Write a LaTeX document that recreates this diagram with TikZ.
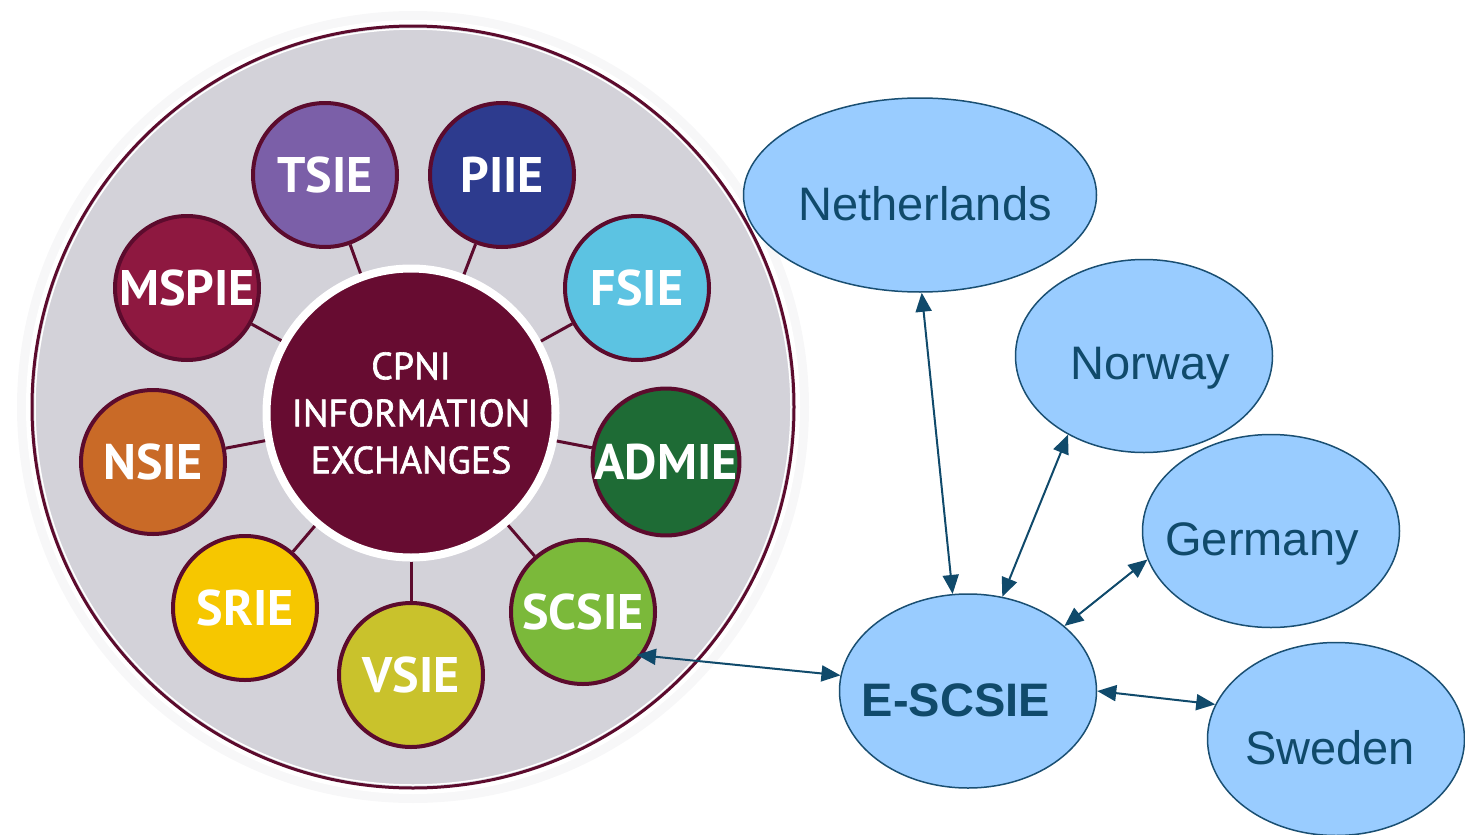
\documentclass[tikz,border=0pt]{standalone}
\usepackage{fontspec}
\setmainfont{Liberation Sans}
\newfontfamily\ptsans{PT Sans}
\newfontfamily\ptsansmed{PT Sans}[FakeBold=1.6]
\usetikzlibrary{shapes.geometric,arrows.meta}
\definecolor{halo}{HTML}{F7F7F8}
\definecolor{ringgray}{HTML}{D3D2D9}
\definecolor{cborder}{HTML}{5C0B2D}
\definecolor{cmaroon}{HTML}{670C31}
\definecolor{ctsie}{HTML}{7B5FA8}
\definecolor{cpiie}{HTML}{2D3B8E}
\definecolor{cfsie}{HTML}{5CC3E2}
\definecolor{cmspie}{HTML}{8E1840}
\definecolor{cnsie}{HTML}{C96A27}
\definecolor{cadmie}{HTML}{1E6B35}
\definecolor{csrie}{HTML}{F6C700}
\definecolor{cscsie}{HTML}{7BB93A}
\definecolor{cvsie}{HTML}{C9C22C}
\definecolor{fillblue}{HTML}{99CCFF}
\definecolor{edgeblue}{HTML}{1A4F72}
\definecolor{textblue}{HTML}{104A6B}
\tikzset{
  smallc/.style={circle, draw=cborder, line width=4pt, minimum size=144pt, inner sep=0pt,
    text=white, font=\ptsans\bfseries\fontsize{50}{60}\selectfont},
  centrec/.style={circle, draw=white, fill=cmaroon, line width=8pt, minimum size=289pt,
    inner sep=0pt, text=white, align=center, font=\ptsansmed\fontsize{38}{47}\selectfont},
  link/.style={draw=cborder, line width=3pt},
  country/.style={ellipse, draw=edgeblue, fill=fillblue, line width=1.5pt, inner sep=0pt,
    minimum width=257pt, minimum height=193pt},
  ctext/.style={text=textblue, font=\fontsize{47}{56}\selectfont, inner sep=0pt},
  biarrow/.style={draw=textblue, line width=2pt,
    {Triangle[length=19pt,width=16pt]}-{Triangle[length=19pt,width=16pt]}}
}
\begin{document}
\begin{tikzpicture}[x=1pt,y=-1pt]
\useasboundingbox (0,0) rectangle (1465,835);
% outer disc
\fill[halo] (413,407) circle[radius=396];
\fill[white] (413,407) circle[radius=387];
\draw[cborder, line width=3pt, fill=ringgray] (413,407) circle[radius=381];
\draw[white, line width=1.5pt] (413,407) circle[radius=378];
% centre
\node[centrec] (ctr) at (411,413) {CPNI\\INFORMATION\\EXCHANGES};
% satellites
\node[smallc, fill=ctsie]   (tsie)  at (325,175) {TSIE};
\node[smallc, fill=cpiie]   (piie)  at (502,175) {PIIE};
\node[smallc, fill=cfsie]   (fsie)  at (637,288) {FSIE};
\node[smallc, fill=cmspie]  (mspie) at (187,288) {MSPIE};
\node[smallc, fill=cnsie]   (nsie)  at (153,462) {NSIE};
\node[smallc, fill=cadmie]  (admie) at (666,462) {ADMIE};
\node[smallc, fill=csrie]   (srie)  at (245,608) {SRIE};
\node[smallc, fill=cscsie]  (scsie) at (583,612) {SCSIE};
\node[smallc, fill=cvsie]   (vsie)  at (411,675) {VSIE};
\foreach \n in {tsie,piie,fsie,mspie,nsie,admie,srie,scsie,vsie}
  \draw[link] (ctr) -- (\n);
% countries
\node[country, minimum width=353pt, minimum height=194pt] (neth) at (920,195) {};
\node[country] (nor) at (1144,356) {};
\node[country] (ger) at (1271,531) {};
\node[country, minimum height=194pt] (esc) at (968,691) {};
\node[country] (swe) at (1336,739) {};
\node[ctext] (nethT) at ([xshift=5pt,yshift=-9pt]neth.center) {Netherlands};
\node[ctext] (norT)  at ([xshift=6pt,yshift=-12pt]nor.center) {Norway};
\node[ctext] (gerT)  at ([xshift=-9pt,yshift=-13pt]ger.center) {Germany};
\node[ctext, font=\bfseries\fontsize{47}{56}\selectfont] (escT) at ([xshift=-12pt,yshift=-9pt]esc.center) {E-SCSIE};
\node[ctext] (sweT)  at ([xshift=-6pt,yshift=-9pt]swe.center) {Sweden};
% arrows
\draw[biarrow] (neth.-89) -- (esc.99);
\draw[biarrow] (nor.226) -- (esc.70);
\draw[biarrow] (ger.193) -- (esc.34);
\draw[biarrow] (esc.0) -- (swe.164);
\draw[biarrow, shorten <=-6pt] (scsie.-36) -- (esc.173);
\end{tikzpicture}
\end{document}
